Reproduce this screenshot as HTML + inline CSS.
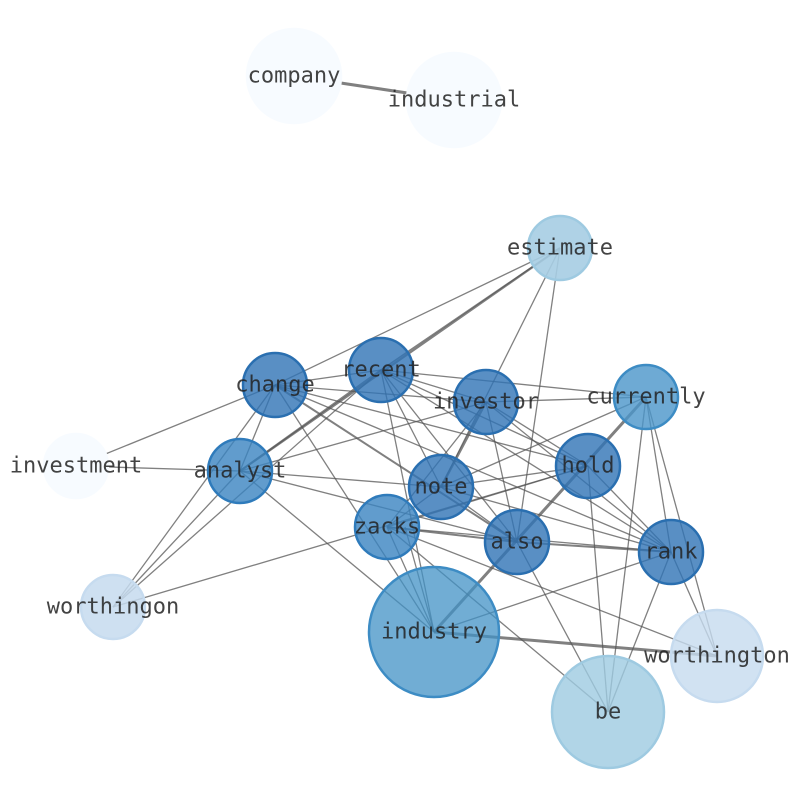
<!DOCTYPE html>
<html><head><meta charset="utf-8"><style>
html,body{margin:0;padding:0;background:#fff;overflow:hidden;}
text{font-family:"DejaVu Sans Mono","Liberation Mono",monospace;font-size:22px;fill:#222;fill-opacity:0.85;text-anchor:middle;dominant-baseline:central;}
</style></head><body>
<svg width="794" height="790" viewBox="0 0 794 790" xmlns="http://www.w3.org/2000/svg">
<g stroke="#555" stroke-opacity="0.75" stroke-width="1.3" fill="none">
<line x1="294" y1="76" x2="454" y2="100" stroke-width="3"/>
<line x1="560" y1="248" x2="275" y2="385"/>
<line x1="560" y1="248" x2="240" y2="471" stroke-width="2.2"/>
<line x1="560" y1="248" x2="381" y2="370" stroke-width="1.6"/>
<line x1="560" y1="248" x2="441" y2="487"/>
<line x1="560" y1="248" x2="517" y2="542"/>
<line x1="76" y1="466" x2="275" y2="385"/>
<line x1="76" y1="466" x2="240" y2="471"/>
<line x1="275" y1="385" x2="381" y2="370"/>
<line x1="275" y1="385" x2="486" y2="402"/>
<line x1="275" y1="385" x2="588" y2="466"/>
<line x1="275" y1="385" x2="671" y2="552"/>
<line x1="275" y1="385" x2="517" y2="542" stroke-width="2"/>
<line x1="275" y1="385" x2="240" y2="471"/>
<line x1="275" y1="385" x2="113" y2="607"/>
<line x1="275" y1="385" x2="434" y2="632"/>
<line x1="381" y1="370" x2="486" y2="402"/>
<line x1="381" y1="370" x2="588" y2="466"/>
<line x1="381" y1="370" x2="671" y2="552"/>
<line x1="381" y1="370" x2="517" y2="542"/>
<line x1="381" y1="370" x2="441" y2="487"/>
<line x1="381" y1="370" x2="434" y2="632"/>
<line x1="381" y1="370" x2="240" y2="471" stroke-width="2"/>
<line x1="381" y1="370" x2="113" y2="607"/>
<line x1="381" y1="370" x2="646" y2="397"/>
<line x1="486" y1="402" x2="441" y2="487" stroke-width="2.5"/>
<line x1="486" y1="402" x2="517" y2="542"/>
<line x1="486" y1="402" x2="671" y2="552"/>
<line x1="486" y1="402" x2="588" y2="466"/>
<line x1="486" y1="402" x2="387" y2="527"/>
<line x1="486" y1="402" x2="240" y2="471"/>
<line x1="486" y1="402" x2="646" y2="397"/>
<line x1="646" y1="397" x2="434" y2="632" stroke-width="3"/>
<line x1="646" y1="397" x2="441" y2="487"/>
<line x1="646" y1="397" x2="671" y2="552"/>
<line x1="646" y1="397" x2="717" y2="656"/>
<line x1="646" y1="397" x2="608" y2="712"/>
<line x1="240" y1="471" x2="441" y2="487"/>
<line x1="240" y1="471" x2="517" y2="542"/>
<line x1="240" y1="471" x2="434" y2="632"/>
<line x1="240" y1="471" x2="113" y2="607"/>
<line x1="588" y1="466" x2="441" y2="487"/>
<line x1="588" y1="466" x2="387" y2="527"/>
<line x1="588" y1="466" x2="671" y2="552"/>
<line x1="588" y1="466" x2="608" y2="712"/>
<line x1="588" y1="466" x2="113" y2="607"/>
<line x1="441" y1="487" x2="387" y2="527"/>
<line x1="441" y1="487" x2="517" y2="542"/>
<line x1="441" y1="487" x2="671" y2="552"/>
<line x1="387" y1="527" x2="517" y2="542" stroke-width="2"/>
<line x1="387" y1="527" x2="671" y2="552"/>
<line x1="387" y1="527" x2="434" y2="632"/>
<line x1="405" y1="527" x2="434" y2="632"/>
<line x1="387" y1="527" x2="717" y2="656"/>
<line x1="387" y1="527" x2="608" y2="712"/>
<line x1="517" y1="542" x2="671" y2="552" stroke-width="2"/>
<line x1="517" y1="542" x2="608" y2="712"/>
<line x1="671" y1="552" x2="434" y2="632"/>
<line x1="671" y1="552" x2="608" y2="712"/>
<line x1="671" y1="552" x2="717" y2="656"/>
<line x1="434" y1="632" x2="717" y2="656" stroke-width="3"/>
</g>
<g stroke-width="2.5">
<circle cx="294" cy="76" r="47" fill="#f7fbff" stroke="#f7fbff"/>
<circle cx="454" cy="100" r="47" fill="#f7fbff" stroke="#f7fbff"/>
<circle cx="76" cy="466" r="32" fill="#f7fbff" stroke="#f7fbff"/>
<circle cx="560" cy="248" r="32" fill="#a6cde3" fill-opacity="0.9" stroke="#9ecae1"/>
<circle cx="113" cy="607" r="32" fill="#c6dbef" fill-opacity="0.85" stroke="#c6dbef"/>
<circle cx="717" cy="656" r="46" fill="#c6dbef" fill-opacity="0.8" stroke="#c6dbef"/>
<circle cx="608" cy="712" r="56" fill="#9ecae1" fill-opacity="0.8" stroke="#9ecae1"/>
<circle cx="434" cy="632" r="65" fill="#4292c6" fill-opacity="0.75" stroke="#3d8cc4"/>
<circle cx="646" cy="397" r="32" fill="#4a95c9" fill-opacity="0.8" stroke="#3d8cc4"/>
<circle cx="275" cy="385" r="32" fill="#2f73b5" fill-opacity="0.8" stroke="#2a6fb0"/>
<circle cx="381" cy="370" r="32" fill="#2f73b5" fill-opacity="0.8" stroke="#2a6fb0"/>
<circle cx="486" cy="402" r="32" fill="#2f73b5" fill-opacity="0.8" stroke="#2a6fb0"/>
<circle cx="240" cy="471" r="32" fill="#3a83c0" fill-opacity="0.8" stroke="#2f7bbb"/>
<circle cx="588" cy="466" r="32" fill="#2f73b5" fill-opacity="0.8" stroke="#2a6fb0"/>
<circle cx="441" cy="487" r="32" fill="#2f73b5" fill-opacity="0.8" stroke="#2a6fb0"/>
<circle cx="387" cy="527" r="32" fill="#3a83c0" fill-opacity="0.8" stroke="#2f7bbb"/>
<circle cx="517" cy="542" r="32" fill="#2f73b5" fill-opacity="0.8" stroke="#2a6fb0"/>
<circle cx="671" cy="552" r="32" fill="#2f73b5" fill-opacity="0.8" stroke="#2a6fb0"/>
</g>
<text x="294" y="76">company</text>
<text x="454" y="100">industrial</text>
<text x="560" y="248">estimate</text>
<text x="275" y="385">change</text>
<text x="381" y="370">recent</text>
<text x="486" y="402">investor</text>
<text x="646" y="397">currently</text>
<text x="76" y="466">investment</text>
<text x="240" y="471">analyst</text>
<text x="588" y="466">hold</text>
<text x="441" y="487">note</text>
<text x="387" y="527">zacks</text>
<text x="517" y="542">also</text>
<text x="671" y="552">rank</text>
<text x="113" y="607">worthingon</text>
<text x="434" y="632">industry</text>
<text x="717" y="656">worthington</text>
<text x="608" y="712">be</text>
</svg>
</body></html>
